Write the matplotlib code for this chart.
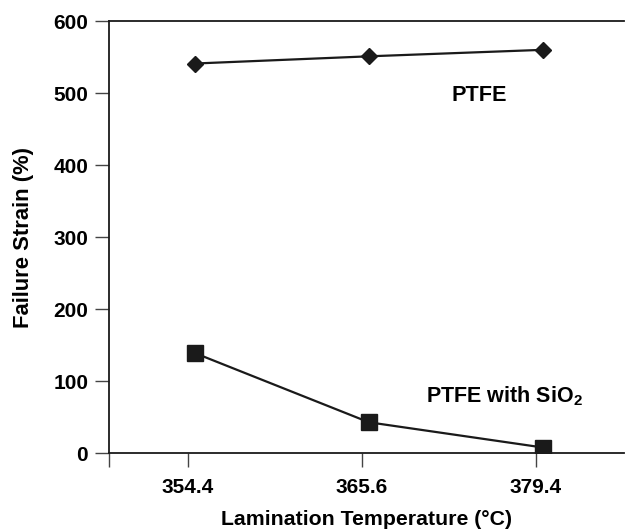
import matplotlib
matplotlib.use("Agg")
import matplotlib.pyplot as plt

plt.rcParams['font.family'] = ['Liberation Sans', 'DejaVu Sans']
plt.rcParams['font.weight'] = 'bold'
plt.rcParams['mathtext.fontset'] = 'custom'
plt.rcParams['mathtext.rm'] = 'Liberation Sans:bold'
plt.rcParams['mathtext.bf'] = 'Liberation Sans:bold'

categories = ["354.4", "365.6", "379.4"]
ptfe = [541, 551, 560]
ptfe_sio2 = [139, 43, 8]
yticks = [0, 100, 200, 300, 400, 500, 600]

fig = plt.figure(figsize=(6.25, 5.32), dpi=100)
ax = fig.add_axes([0.1744, 0.148, 0.824, 0.8125])

idx = list(range(len(categories)))
xpos = [i + 0.04 for i in idx]
ink = '#1a1a1a'
ax.plot(xpos, ptfe, color=ink, lw=1.6, marker='D', ms=8, mfc=ink, mec=ink)
ax.plot(xpos, ptfe_sio2, color=ink, lw=1.6, marker='s', ms=12, mfc=ink, mec=ink)

ax.set_xlim(-0.454, 2.506)
ax.set_ylim(0, 600)
ax.set_yticks(yticks)
ax.set_xticks([-0.454] + idx)
ax.set_xticklabels([""] + categories)

ax.spines['right'].set_visible(False)
for s in ['left', 'bottom', 'top']:
    ax.spines[s].set_color(ink)
    ax.spines[s].set_linewidth(1.3)

ax.tick_params(axis='both', direction='out', length=10, width=1.0, color='#444444',
               labelsize=15)
ax.tick_params(axis='x', pad=8)
ax.tick_params(axis='y', pad=5)
for lab in ax.get_xticklabels() + ax.get_yticklabels():
    lab.set_fontweight('bold')

ax.set_xlabel("Lamination Temperature (\u00b0C)", fontsize=15.3, fontweight='bold', labelpad=9)
ax.set_ylabel("Failure Strain (%)", fontsize=15.8, fontweight='bold', labelpad=14)

ax.text(1.672, 496, "PTFE", fontsize=15.6, fontweight='bold', ha='center', va='center')
ax.text(1.82, 79, "PTFE with SiO$_{2}$", fontsize=15.5, fontweight='bold', ha='center', va='center')

fig.savefig("out.png", dpi=100)
